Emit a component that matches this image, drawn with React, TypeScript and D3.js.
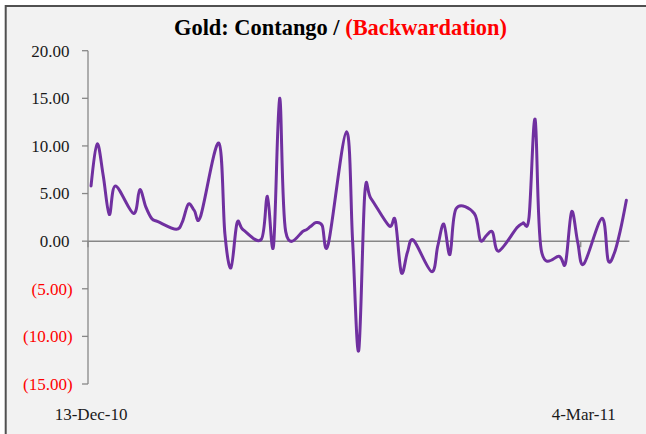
import React from "react";
import * as d3 from "d3";

// trading days shown in the chart
const dates = [
  "2010-12-13", "2010-12-14", "2010-12-15", "2010-12-16", "2010-12-17",
  "2010-12-20", "2010-12-21", "2010-12-22", "2010-12-23", "2010-12-24",
  "2010-12-27", "2010-12-28", "2010-12-29", "2010-12-30", "2010-12-31",
  "2011-01-03", "2011-01-04", "2011-01-05", "2011-01-06", "2011-01-07",
  "2011-01-10", "2011-01-11", "2011-01-12", "2011-01-13", "2011-01-14",
  "2011-01-17", "2011-01-18", "2011-01-19", "2011-01-20", "2011-01-21",
  "2011-01-24", "2011-01-25", "2011-01-26", "2011-01-27", "2011-01-28",
  "2011-01-31", "2011-02-01", "2011-02-02", "2011-02-03", "2011-02-04",
  "2011-02-07", "2011-02-08", "2011-02-09", "2011-02-10", "2011-02-11",
  "2011-02-14", "2011-02-15", "2011-02-16", "2011-02-17", "2011-02-18",
  "2011-02-21", "2011-02-22", "2011-02-23", "2011-02-24", "2011-02-25",
  "2011-02-28", "2011-03-01", "2011-03-02", "2011-03-03", "2011-03-04",
  "2011-03-07", "2011-03-08", "2011-03-09", "2011-03-10", "2011-03-11",
];

// contango (+) / backwardation (-)
const spread = [
  5.8, 10.2, 6.9, 2.8, 5.8,
  2.9, 5.4, 3.6, 2.35, 2.05,
  1.25, 2.0, 3.9, 3.2, 2.6,
  10.3, 0.8, -2.8, 1.9, 1.2,
  0.2, 4.7, -0.5, 15.0, 1.0,
  1.1, 1.5, 1.95, 1.65, -0.3,
  11.5, 0.0, -11.5, 5.0, 4.5,
  1.6, 2.2, -3.3, -1.2, 0.1,
  -3.2, -0.5, 1.8, -1.4, 3.4,
  2.9, 0.1, 0.6, 0.95, -1.05,
  1.4, 1.9, 2.5, 12.8, -0.9,
  -1.6, -2.3, 3.1, -0.1, -2.4,
  2.4, -2.0, -1.3, 1.1, 4.3,
];

const yTicks = [20, 15, 10, 5, 0, -5, -10, -15];
const xTickDates = ["2010-12-13", "2011-03-04"];
const xTickLabels = ["13-Dec-10", "4-Mar-11"];

const W = 646;
const H = 434;
const axisColor = "#878787";
const font = "'Liberation Serif', 'Times New Roman', serif";

const fmt = (v: number) =>
  v < 0 ? `(${Math.abs(v).toFixed(2)})` : v.toFixed(2);

export default function App() {
  const parse = (s: string) => new Date(s + "T00:00:00Z");

  // date axis: one band per calendar day, points sit in the middle of the band
  const x = d3
    .scaleUtc()
    .domain([parse("2010-12-13"), parse("2011-03-12")])
    .range([88, 629.4]);
  const half = (x(parse("2010-12-14")) - x(parse("2010-12-13"))) / 2;

  const y = d3.scaleLinear().domain([-15, 20]).range([384, 50.7]);

  const line = d3
    .line<number>()
    .x((_, i) => x(parse(dates[i])) + half)
    .y((d) => y(d))
    .curve(d3.curveCardinal.tension(0));

  return (
    <svg
      width={W}
      height={H}
      style={{ position: "absolute", left: 0, top: 0, background: "#ffffff" }}
    >
      <rect
        x={5.7}
        y={6}
        width={W + 20}
        height={H + 20}
        fill="#f2f2f2"
        stroke="#505050"
        strokeWidth={2}
      />

      {/* title */}
      <text
        x={340.5}
        y={35.3}
        textAnchor="middle"
        fontFamily={font}
        fontWeight="bold"
        fontSize={23}
        textLength={333}
        lengthAdjust="spacingAndGlyphs"
      >
        <tspan fill="#000000">Gold: Contango / </tspan>
        <tspan fill="#ff0000">(Backwardation)</tspan>
      </text>

      {/* y axis */}
      <line x1={88} x2={88} y1={y(20)} y2={y(-15)} stroke={axisColor} strokeWidth={1.3} />
      {yTicks.map((t) => (
        <g key={t}>
          <line x1={82} x2={88} y1={y(t)} y2={y(t)} stroke={axisColor} strokeWidth={1.3} />
          <text
            x={t < 0 ? 72.7 : 69.4}
            y={y(t)}
            dy="0.35em"
            textAnchor="end"
            fontFamily={font}
            fontSize={17}
            fill={t < 0 ? "#ff0000" : "#1a1a1a"}
          >
            {fmt(t)}
          </text>
        </g>
      ))}

      {/* x axis at zero */}
      <line x1={88} x2={629.4} y1={y(0)} y2={y(0)} stroke={axisColor} strokeWidth={1.5} />
      {xTickDates.map((d, i) => (
        <g key={d}>
          <line
            x1={x(parse(d))}
            x2={x(parse(d))}
            y1={y(0)}
            y2={y(0) + 6}
            stroke={axisColor}
            strokeWidth={1.3}
          />
          <text
            x={x(parse(d)) + half}
            y={419.5}
            textAnchor="middle"
            fontFamily={font}
            fontSize={17}
            fill="#1a1a1a"
          >
            {xTickLabels[i]}
          </text>
        </g>
      ))}

      {/* series */}
      <path
        d={line(spread) ?? ""}
        fill="none"
        stroke="#7030a0"
        strokeWidth={3}
        strokeLinejoin="round"
        strokeLinecap="round"
      />
    </svg>
  );
}
